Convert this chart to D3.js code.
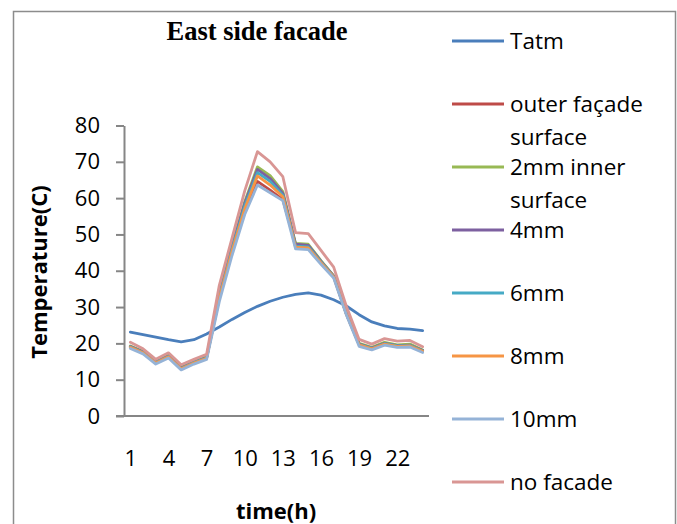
<!DOCTYPE html>
<html>
<head>
<meta charset="utf-8">
<script src="https://cdn.jsdelivr.net/npm/d3@7/dist/d3.min.js"></script>
<style>
  html, body { margin: 0; padding: 0; background: #fff; }
  svg { display: block; }
</style>
</head>
<body>
<svg id="chart" width="677" height="524"></svg>
<script>
// Hourly temperatures on the east side facade
const hours = d3.range(1, 25);
const xTickLabels = [1, 4, 7, 10, 13, 16, 19, 22];
const yTickValues = [0, 10, 20, 30, 40, 50, 60, 70, 80];

const tatm        = [23.1, 22.4, 21.7, 21.0, 20.4, 21.0, 22.6, 24.5, 26.6, 28.5, 30.2, 31.6, 32.7, 33.5, 33.9, 33.3, 32.0, 30.3, 27.9, 25.9, 24.8, 24.1, 23.9, 23.5];
const outerFacade = [19.1, 17.6, 14.8, 16.5, 13.2, 14.8, 16.1, 32.5, 45.5, 56.5, 64.6, 62.2, 59.6, 47.2, 47.0, 42.6, 38.5, 28.2, 19.8, 18.7, 20.1, 19.4, 19.6, 18.0];
const inner2mm    = [19.3, 17.8, 15.0, 16.7, 13.4, 15.0, 16.3, 33.5, 47.0, 59.0, 68.6, 66.2, 61.8, 47.5, 47.3, 42.8, 38.6, 28.3, 20.0, 18.9, 20.3, 19.6, 19.8, 18.2];
const mm4         = [19.1, 17.6, 14.8, 16.5, 13.2, 14.8, 16.1, 33.2, 46.6, 58.5, 67.9, 65.4, 61.3, 47.3, 47.0, 42.6, 38.5, 28.2, 19.8, 18.7, 20.0, 19.4, 19.5, 18.0];
const mm6         = [19.0, 17.5, 14.7, 16.4, 13.1, 14.7, 16.0, 32.8, 46.0, 57.8, 67.0, 64.6, 60.8, 46.8, 46.6, 42.4, 38.4, 28.1, 19.7, 18.6, 19.9, 19.3, 19.4, 17.9];
const mm8         = [18.9, 17.4, 14.6, 16.3, 13.0, 14.6, 15.9, 32.4, 45.4, 57.0, 66.1, 63.6, 60.4, 46.5, 46.3, 42.2, 38.3, 28.0, 19.6, 18.5, 19.8, 19.2, 19.3, 17.8];
const mm10        = [18.6, 17.1, 14.3, 16.0, 12.7, 14.3, 15.6, 31.5, 44.2, 55.5, 63.6, 61.5, 59.3, 46.0, 45.8, 41.8, 38.0, 27.8, 19.2, 18.2, 19.5, 18.9, 19.0, 17.5];
const noFacade    = [20.3, 18.5, 15.6, 17.4, 14.1, 15.6, 17.0, 36.0, 49.0, 62.0, 72.8, 70.0, 65.9, 50.5, 50.2, 45.6, 41.0, 30.2, 21.1, 19.8, 21.3, 20.6, 20.8, 19.1];

const seriesNames = [["Tatm"], ["outer façade", "surface"], ["2mm inner", "surface"], ["4mm"], ["6mm"], ["8mm"], ["10mm"], ["no facade"]];
const seriesValues = [tatm, outerFacade, inner2mm, mm4, mm6, mm8, mm10, noFacade];
const seriesColors = ["#4A7EBB", "#BE4B48", "#98B954", "#7D60A0", "#46AAC5", "#F69545", "#95B3D7", "#D99694"];

const svg = d3.select("#chart");
const tickFont = "'Open Sans', 'Noto Sans', sans-serif";

// outer frame
svg.append("rect")
  .attr("x", 13.5).attr("y", 11.5)
  .attr("width", 662).attr("height", 530)
  .attr("fill", "none").attr("stroke", "#8c8c8c").attr("stroke-width", 1.5);

const plot = { left: 124, right: 429, top: 125.5, bottom: 416 };

const x = d3.scalePoint().domain(hours).range([plot.left, plot.right]).padding(0.5);
const y = d3.scaleLinear().domain([0, 80]).range([plot.bottom, plot.top]);

// title
svg.append("text")
  .attr("x", 257).attr("y", 40)
  .attr("text-anchor", "middle")
  .attr("font-family", "'Liberation Serif', 'Times New Roman', serif")
  .attr("font-weight", "bold").attr("font-size", 26.5)
  .text("East side facade");

// y axis
const yAxis = svg.append("g")
  .attr("transform", `translate(${plot.left},0)`)
  .call(d3.axisLeft(y).tickValues(yTickValues).tickSizeInner(8).tickSizeOuter(0).tickPadding(16));
yAxis.select(".domain").attr("stroke", "#868686").attr("stroke-width", 2);
yAxis.selectAll(".tick line").attr("stroke", "#868686").attr("stroke-width", 2);
yAxis.selectAll(".tick text")
  .attr("font-family", tickFont).attr("font-size", 22).attr("fill", "#000");

// x axis
const xAxis = svg.append("g")
  .attr("transform", `translate(0,${plot.bottom})`)
  .call(d3.axisBottom(x).tickValues(xTickLabels).tickSize(0).tickPadding(34));
xAxis.select(".domain").attr("stroke", "#868686").attr("stroke-width", 2)
  .attr("d", `M${plot.left - 8},0H${plot.right}`);
xAxis.selectAll(".tick text")
  .attr("font-family", tickFont).attr("font-size", 22).attr("fill", "#000");

// axis titles
svg.append("text")
  .attr("transform", "translate(47,272) rotate(-90)")
  .attr("text-anchor", "middle")
  .attr("font-family", tickFont).attr("font-weight", "bold").attr("font-size", 22)
  .text("Temperature(C)");

svg.append("text")
  .attr("x", 276).attr("y", 519)
  .attr("text-anchor", "middle")
  .attr("font-family", tickFont).attr("font-weight", "bold").attr("font-size", 22)
  .text("time(h)");

// series lines
const line = d3.line().x((d, i) => x(hours[i])).y(d => y(d));
svg.append("g").selectAll("path")
  .data(seriesValues)
  .join("path")
  .attr("d", d => line(d))
  .attr("fill", "none")
  .attr("stroke", (d, i) => seriesColors[i])
  .attr("stroke-width", 2.8)
  .attr("stroke-linejoin", "round")
  .attr("stroke-linecap", "round");

// legend
const legend = svg.append("g");
seriesNames.forEach((lines, i) => {
  const ly = 41 + 63 * i;
  legend.append("line")
    .attr("x1", 452).attr("x2", 504).attr("y1", ly).attr("y2", ly)
    .attr("stroke", seriesColors[i]).attr("stroke-width", 2.8);
  lines.forEach((t, j) => {
    legend.append("text")
      .attr("x", 510).attr("y", ly + 8 + 33 * j)
      .attr("font-family", tickFont).attr("font-size", 22.5)
      .text(t);
  });
});
</script>
</body>
</html>
